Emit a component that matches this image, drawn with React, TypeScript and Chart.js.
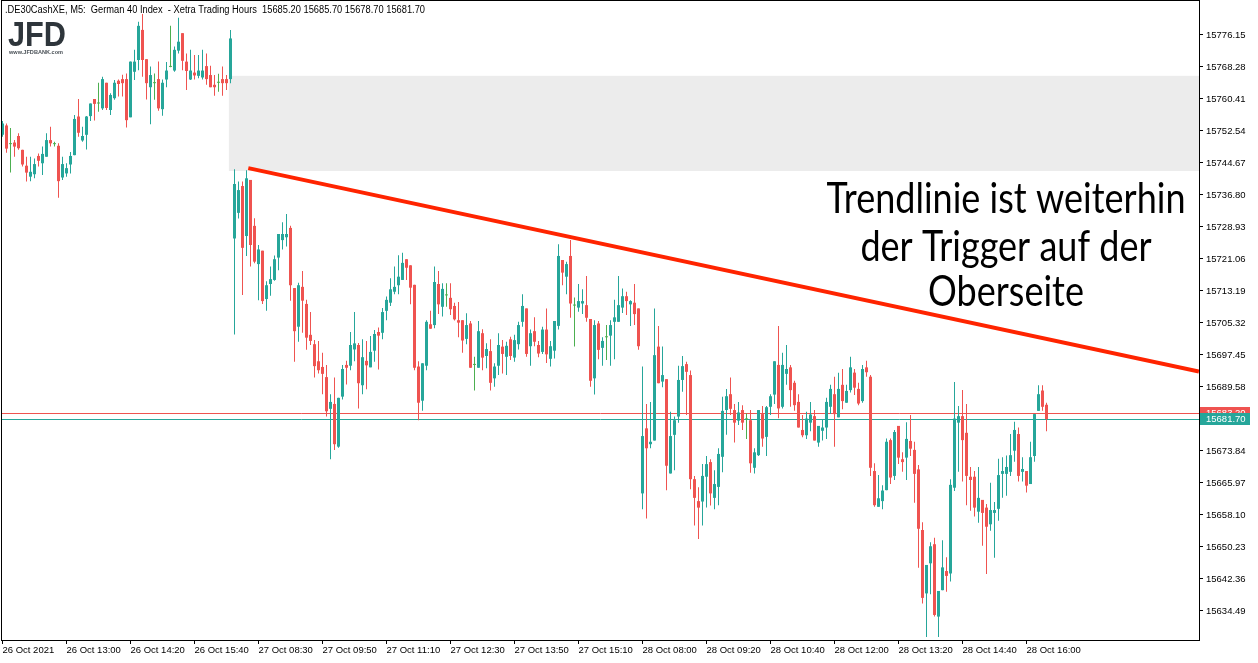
import React, { useEffect, useRef } from 'react';
import { Chart, registerables } from 'chart.js';

Chart.register(...registerables);

// ---- Data (DE30 M5, 26 Oct 11:40 -> 28 Oct 16:25) ----
const OPEN = [
  15751.6, 15753.9, 15749.3, 15749.7, 15751.3, 15747.9, 15744.0, 15741.3, 15741.9, 15746.4,
  15744.6, 15746.2, 15750.3, 15749.3, 15748.9, 15741.1, 15742.1, 15744.3, 15746.6, 15756.1,
  15750.2, 15751.6, 15756.2, 15760.4, 15759.3, 15758.1, 15764.4, 15757.7, 15760.6, 15764.9,
  15765.3, 15765.3, 15755.9, 15767.1, 15770.0, 15777.4, 15770.2, 15763.3, 15764.3, 15765.3,
  15757.9, 15765.2, 15768.3, 15767.4, 15772.3, 15776.6, 15769.6, 15765.2, 15766.9, 15766.1,
  15765.7, 15768.5, 15766.3, 15763.9, 15764.4, 15765.3, 15765.3, 15765.3, 15726.1, 15732.4,
  15739.0, 15726.7, 15740.5, 15729.2, 15719.8, 15723.1, 15711.2, 15714.9, 15715.9, 15721.4,
  15725.7, 15726.4, 15728.7, 15713.9, 15704.4, 15714.2, 15710.0, 15702.4, 15700.1, 15695.9,
  15694.5, 15692.0, 15684.2, 15685.4, 15674.9, 15687.2, 15695.0, 15694.8, 15698.8, 15699.9,
  15690.0, 15696.0, 15694.4, 15698.5, 15703.1, 15702.9, 15708.3, 15710.3, 15713.0, 15714.6,
  15715.9, 15721.0, 15719.5, 15714.7, 15694.6, 15686.2, 15694.8, 15705.0, 15704.8, 15714.9,
  15709.3, 15712.1, 15711.5, 15709.5, 15706.0, 15706.0, 15701.4, 15705.2, 15695.0, 15694.3,
  15702.8, 15697.2, 15698.4, 15691.7, 15694.8, 15699.5, 15697.0, 15701.3, 15696.8, 15700.1,
  15705.6, 15708.9, 15699.6, 15703.3, 15699.9, 15698.2, 15703.7, 15696.5, 15698.5, 15704.6,
  15720.8, 15716.7, 15721.8, 15709.6, 15709.1, 15710.1, 15709.7, 15706.3, 15691.7, 15705.2,
  15699.2, 15701.8, 15702.2, 15705.6, 15705.6, 15709.1, 15711.9, 15709.9, 15710.3, 15708.9,
  15663.4, 15679.4, 15675.5, 15676.4, 15699.5, 15690.9, 15691.5, 15668.3, 15677.8, 15682.3,
  15691.3, 15695.2, 15692.5, 15666.9, 15661.5, 15661.4, 15667.5, 15671.1, 15662.3, 15665.0,
  15672.4, 15683.9, 15687.8, 15683.9, 15681.3, 15683.9, 15681.6, 15681.4, 15669.7, 15672.8,
  15682.9, 15677.3, 15684.7, 15687.7, 15695.0, 15684.7, 15692.8, 15694.4, 15690.6, 15685.9,
  15679.0, 15677.7, 15680.8, 15682.4, 15675.9, 15678.8, 15679.6, 15684.7, 15687.8, 15682.1,
  15690.1, 15685.7, 15688.8, 15693.1, 15689.1, 15686.1, 15694.4, 15692.1, 15668.9, 15660.1,
  15661.5, 15664.2, 15676.5, 15667.7, 15680.0, 15671.8, 15672.2, 15676.3, 15674.1, 15669.3,
  15654.4, 15638.8, 15646.2, 15650.9, 15633.1, 15639.6, 15644.3, 15643.7, 15664.8, 15680.8,
  15682.4, 15678.3, 15667.5, 15667.5, 15658.9, 15661.8, 15659.9, 15655.8, 15658.6, 15659.6,
  15668.2, 15668.2, 15668.7, 15673.9, 15678.0, 15668.7, 15668.9, 15665.7, 15672.6, 15683.7,
  15688.7, 15685.2,
];
const HIGH = [
  15755.0, 15754.4, 15753.3, 15750.3, 15752.0, 15747.9, 15746.2, 15746.2, 15745.8, 15747.0,
  15748.7, 15752.0, 15753.6, 15749.9, 15749.5, 15746.2, 15744.6, 15747.4, 15756.5, 15760.4,
  15753.6, 15756.2, 15759.3, 15760.4, 15764.4, 15765.9, 15764.4, 15761.8, 15765.1, 15765.2,
  15766.4, 15766.7, 15769.6, 15772.5, 15779.4, 15781.3, 15770.2, 15768.4, 15766.7, 15769.6,
  15765.2, 15769.5, 15778.4, 15773.3, 15780.4, 15776.6, 15771.6, 15772.5, 15771.2, 15771.2,
  15772.5, 15771.6, 15768.6, 15766.3, 15766.6, 15768.4, 15766.3, 15777.4, 15743.1, 15740.1,
  15740.1, 15742.9, 15740.5, 15731.1, 15724.5, 15723.1, 15715.6, 15719.2, 15721.9, 15727.2,
  15730.1, 15732.1, 15729.2, 15713.9, 15715.2, 15718.1, 15711.0, 15708.0, 15701.1, 15700.9,
  15698.0, 15695.0, 15687.8, 15691.9, 15686.9, 15695.0, 15696.0, 15703.1, 15708.0, 15700.4,
  15701.3, 15700.9, 15702.1, 15703.6, 15704.2, 15709.0, 15711.8, 15716.3, 15719.2, 15722.0,
  15722.6, 15721.0, 15719.5, 15714.7, 15695.9, 15695.4, 15706.0, 15708.3, 15719.2, 15718.1,
  15715.1, 15715.1, 15715.1, 15710.3, 15710.5, 15706.0, 15707.7, 15705.8, 15697.0, 15705.8,
  15703.8, 15700.3, 15701.3, 15695.4, 15702.8, 15701.1, 15700.7, 15701.9, 15702.4, 15705.6,
  15712.4, 15708.9, 15703.7, 15706.7, 15700.9, 15704.4, 15708.9, 15700.9, 15705.8, 15724.7,
  15720.8, 15720.4, 15725.7, 15711.6, 15714.9, 15713.6, 15716.9, 15706.3, 15706.0, 15705.8,
  15701.8, 15704.8, 15706.0, 15711.0, 15716.9, 15713.8, 15713.0, 15710.9, 15714.9, 15708.9,
  15694.6, 15685.4, 15685.9, 15708.9, 15704.6, 15699.5, 15691.5, 15683.5, 15682.3, 15694.8,
  15697.2, 15695.8, 15693.6, 15667.7, 15664.9, 15670.6, 15672.6, 15671.8, 15669.1, 15674.5,
  15687.2, 15689.1, 15691.9, 15685.4, 15685.9, 15685.1, 15683.1, 15683.9, 15674.5, 15683.9,
  15684.9, 15684.9, 15687.8, 15695.9, 15704.6, 15698.0, 15699.9, 15695.0, 15691.1, 15687.8,
  15682.7, 15683.5, 15685.9, 15683.9, 15680.0, 15681.7, 15686.9, 15690.1, 15692.1, 15693.1,
  15694.0, 15690.1, 15697.0, 15694.0, 15690.6, 15695.0, 15696.0, 15692.5, 15670.8, 15667.9,
  15665.4, 15676.9, 15676.9, 15679.0, 15680.0, 15673.5, 15680.9, 15682.7, 15676.1, 15670.4,
  15656.3, 15645.8, 15651.4, 15652.5, 15639.4, 15651.9, 15647.7, 15666.9, 15690.8, 15684.9,
  15688.8, 15685.4, 15669.9, 15668.9, 15669.9, 15661.8, 15660.8, 15666.0, 15661.3, 15671.9,
  15672.3, 15672.7, 15678.0, 15681.0, 15679.6, 15672.3, 15668.9, 15676.1, 15682.9, 15690.0,
  15690.0, 15685.7,
];
const LOW = [
  15751.1, 15747.2, 15742.3, 15746.2, 15747.9, 15743.8, 15740.1, 15740.2, 15740.9, 15743.8,
  15741.7, 15746.2, 15748.7, 15748.7, 15736.1, 15740.5, 15741.3, 15742.1, 15746.6, 15751.1,
  15749.9, 15748.0, 15755.0, 15755.1, 15757.3, 15757.7, 15757.7, 15756.5, 15760.2, 15761.0,
  15761.0, 15753.4, 15755.9, 15765.1, 15767.5, 15765.9, 15760.3, 15754.2, 15760.2, 15757.5,
  15756.3, 15763.3, 15768.2, 15767.1, 15771.6, 15767.5, 15762.6, 15765.1, 15765.2, 15765.5,
  15765.2, 15763.9, 15763.3, 15761.2, 15762.2, 15761.2, 15762.6, 15764.3, 15702.5, 15731.0,
  15712.2, 15721.8, 15719.2, 15720.0, 15710.9, 15710.0, 15708.3, 15712.0, 15715.7, 15718.3,
  15723.4, 15724.1, 15710.8, 15695.8, 15700.7, 15702.9, 15698.7, 15699.9, 15691.9, 15692.9,
  15687.8, 15682.3, 15671.8, 15674.1, 15674.6, 15686.5, 15690.2, 15693.7, 15695.9, 15684.3,
  15687.8, 15689.0, 15694.4, 15695.8, 15693.9, 15701.3, 15706.0, 15709.5, 15712.4, 15712.4,
  15715.9, 15715.9, 15709.9, 15693.7, 15681.4, 15683.7, 15693.7, 15703.9, 15704.0, 15707.5,
  15706.9, 15709.3, 15707.3, 15705.9, 15701.8, 15698.0, 15700.1, 15694.3, 15688.7, 15694.3,
  15693.7, 15694.2, 15688.7, 15689.6, 15692.5, 15692.9, 15692.5, 15696.2, 15695.8, 15698.8,
  15704.4, 15697.0, 15694.8, 15699.6, 15696.9, 15697.7, 15695.5, 15694.6, 15696.6, 15703.7,
  15714.6, 15712.4, 15706.6, 15699.5, 15708.1, 15707.5, 15705.6, 15689.6, 15687.7, 15696.4,
  15694.8, 15696.2, 15694.8, 15696.4, 15705.6, 15707.8, 15707.3, 15704.6, 15704.8, 15698.7,
  15659.5, 15657.2, 15674.5, 15676.4, 15690.5, 15689.5, 15664.2, 15668.3, 15669.1, 15680.8,
  15688.4, 15682.7, 15664.4, 15655.5, 15652.2, 15655.5, 15659.9, 15660.4, 15659.5, 15660.5,
  15668.6, 15677.8, 15682.7, 15675.9, 15680.2, 15679.0, 15676.8, 15668.5, 15668.3, 15672.6,
  15674.9, 15672.6, 15682.7, 15685.4, 15681.9, 15684.3, 15690.1, 15684.7, 15683.7, 15679.6,
  15677.2, 15676.8, 15678.7, 15676.4, 15674.9, 15676.4, 15676.8, 15682.9, 15674.9, 15682.1,
  15684.1, 15685.7, 15688.2, 15687.6, 15685.1, 15685.7, 15692.1, 15667.7, 15660.1, 15660.1,
  15659.5, 15664.2, 15665.7, 15666.7, 15670.6, 15668.7, 15666.7, 15672.6, 15661.1, 15645.1,
  15636.3, 15628.1, 15638.6, 15633.1, 15628.1, 15639.6, 15639.2, 15641.7, 15664.0, 15668.7,
  15666.3, 15660.5, 15659.1, 15657.7, 15656.2, 15650.5, 15643.6, 15654.2, 15647.6, 15656.7,
  15662.3, 15662.8, 15667.7, 15671.2, 15666.3, 15666.3, 15663.6, 15665.7, 15671.2, 15683.7,
  15683.7, 15678.7,
];
const CLOSE = [
  15754.4, 15748.2, 15749.3, 15748.7, 15748.3, 15744.3, 15742.3, 15742.5, 15744.4, 15745.2,
  15746.9, 15750.3, 15749.5, 15749.3, 15740.2, 15744.4, 15743.4, 15746.4, 15755.5, 15752.1,
  15751.3, 15756.1, 15759.3, 15759.2, 15759.3, 15765.3, 15758.2, 15761.4, 15764.4, 15764.1,
  15764.3, 15755.2, 15769.6, 15769.6, 15778.4, 15770.0, 15764.3, 15766.3, 15764.3, 15758.1,
  15764.4, 15767.4, 15768.3, 15772.5, 15774.5, 15769.8, 15767.3, 15767.4, 15766.2, 15767.4,
  15767.4, 15765.3, 15763.3, 15763.3, 15764.4, 15764.3, 15764.3, 15775.3, 15739.5, 15738.0,
  15723.8, 15740.9, 15724.5, 15720.4, 15723.4, 15710.7, 15714.6, 15716.1, 15721.0, 15727.2,
  15727.2, 15727.2, 15714.6, 15703.3, 15714.6, 15710.8, 15701.7, 15700.9, 15694.7, 15693.7,
  15692.8, 15683.6, 15685.9, 15675.5, 15686.9, 15694.0, 15694.3, 15699.9, 15700.3, 15690.5,
  15696.9, 15694.9, 15698.2, 15702.6, 15702.2, 15708.0, 15711.0, 15713.6, 15714.2, 15716.7,
  15720.1, 15718.9, 15714.0, 15694.3, 15685.7, 15695.4, 15705.6, 15703.9, 15715.4, 15709.9,
  15713.7, 15712.1, 15708.7, 15706.2, 15705.4, 15701.0, 15704.8, 15694.3, 15695.0, 15703.3,
  15696.8, 15698.9, 15690.6, 15694.6, 15699.9, 15697.7, 15699.7, 15697.2, 15701.1, 15704.8,
  15709.5, 15697.7, 15702.8, 15700.7, 15697.8, 15703.7, 15697.6, 15699.6, 15705.8, 15721.8,
  15717.7, 15719.8, 15710.1, 15709.6, 15710.7, 15710.7, 15706.6, 15691.1, 15704.8, 15698.7,
  15700.9, 15701.8, 15704.8, 15706.7, 15709.7, 15711.9, 15710.7, 15710.7, 15707.5, 15699.6,
  15677.5, 15674.5, 15676.1, 15697.4, 15690.5, 15692.5, 15670.2, 15677.5, 15681.4, 15691.3,
  15694.7, 15693.3, 15666.9, 15662.3, 15659.9, 15667.7, 15670.6, 15663.4, 15665.7, 15673.1,
  15683.7, 15687.3, 15684.2, 15680.8, 15683.3, 15680.8, 15681.6, 15670.8, 15673.5, 15683.9,
  15676.9, 15684.6, 15687.3, 15695.9, 15684.3, 15695.0, 15694.0, 15688.8, 15685.1, 15679.6,
  15677.7, 15681.8, 15682.8, 15676.4, 15680.0, 15679.6, 15685.9, 15689.1, 15682.9, 15689.1,
  15686.1, 15688.6, 15694.4, 15689.4, 15685.5, 15694.0, 15693.2, 15669.7, 15660.5, 15662.2,
  15664.1, 15676.1, 15667.3, 15678.5, 15672.2, 15671.1, 15676.8, 15674.4, 15668.2, 15654.7,
  15637.7, 15645.8, 15650.4, 15633.5, 15639.4, 15645.2, 15643.1, 15665.5, 15681.8, 15682.4,
  15676.5, 15667.7, 15666.7, 15659.9, 15662.3, 15658.6, 15655.2, 15659.3, 15659.3, 15667.9,
  15668.9, 15669.9, 15672.8, 15679.0, 15667.7, 15669.4, 15665.3, 15672.3, 15682.9, 15687.8,
  15684.7, 15681.7,
];

// x-axis labels: one every 16 bars
const X_TICK_BARS = [0, 16, 32, 48, 64, 80, 96, 112, 128, 144, 160, 176, 192, 208, 224, 240, 256];
const X_TICK_LABELS = [
  '26 Oct 2021', '26 Oct 13:00', '26 Oct 14:20', '26 Oct 15:40', '27 Oct 08:30', '27 Oct 09:50',
  '27 Oct 11:10', '27 Oct 12:30', '27 Oct 13:50', '27 Oct 15:10', '28 Oct 08:00', '28 Oct 09:20',
  '28 Oct 10:40', '28 Oct 12:00', '28 Oct 13:20', '28 Oct 14:40', '28 Oct 16:00',
];
const Y_TICKS = [
  15776.15, 15768.28, 15760.41, 15752.54, 15744.67, 15736.8, 15728.93, 15721.06, 15713.19,
  15705.32, 15697.45, 15689.58, 15681.71, 15673.84, 15665.97, 15658.1, 15650.23, 15642.36, 15634.49,
];
const Y_MIN = 15627.34;
const Y_MAX = 15784.51;
const X_MIN = -0.125;
const X_MAX = 299.125;

const BID = 15681.7;
const ASK = 15683.2;
const GAP_START = 56.6;
const GAP_TOP = 15766.1;
const GAP_BOTTOM = 15742.7;
const TREND_X = [61.45, 299.1];
const TREND_Y = [15743.4, 15693.4];

const HEADER = '.DE30CashXE, M5:  German 40 Index  - Xetra Trading Hours  15685.20 15685.70 15678.70 15681.70';
const NOTE_LINES = ['Trendlinie ist weiterhin', 'der Trigger auf der', 'Oberseite'];

const UP = '#26a69a';
const DOWN = '#ef5350';
const DOJI = '#4caf50';
const TREND = '#ff2400';
const TICK_FONT = { family: 'Liberation Sans', size: 9.5 };

const candleColor = (i: number) =>
  CLOSE[i] > OPEN[i] ? UP : CLOSE[i] < OPEN[i] ? DOWN : DOJI;

const overlay = {
  id: 'mt5overlay',
  beforeDatasetsDraw(chart: any) {
    const { ctx, chartArea, scales } = chart;
    const { left, right, top, bottom } = chartArea;
    const x = scales.x;
    const y = scales.y;
    ctx.save();
    ctx.beginPath();
    ctx.rect(left, top, right - left, bottom - top);
    ctx.clip();
    const gx = x.getPixelForValue(GAP_START);
    const gt = y.getPixelForValue(GAP_TOP);
    const gb = y.getPixelForValue(GAP_BOTTOM);
    ctx.fillStyle = '#ececec';
    ctx.fillRect(gx, gt, right - gx, gb - gt);
    const hline = (price: number, color: string) => {
      const py = Math.round(y.getPixelForValue(price)) + 0.5;
      ctx.strokeStyle = color;
      ctx.lineWidth = 1;
      ctx.beginPath();
      ctx.moveTo(left, py);
      ctx.lineTo(right, py);
      ctx.stroke();
    };
    hline(ASK, DOWN);
    hline(BID, UP);
    ctx.restore();
  },
  afterDraw(chart: any) {
    const { ctx, chartArea, scales } = chart;
    const { left, right, top, bottom } = chartArea;
    const y = scales.y;
    ctx.save();
    // frame
    ctx.strokeStyle = '#000';
    ctx.lineWidth = 1;
    ctx.strokeRect(left - 0.5, top - 0.5, right - left + 1, bottom - top + 1);

    // header text
    ctx.fillStyle = '#000';
    ctx.font = '10px "Liberation Sans"';
    ctx.textBaseline = 'alphabetic';
    ctx.textAlign = 'left';
    const hw = ctx.measureText(HEADER).width;
    ctx.save();
    ctx.translate(5, 13);
    ctx.scale(420 / hw, 1);
    ctx.fillText(HEADER, 0, 0);
    ctx.restore();

    // JFD logo
    ctx.fillStyle = '#2e353b';
    ctx.font = 'bold 35px "Liberation Sans"';
    const lw = ctx.measureText('JFD').width;
    ctx.save();
    ctx.translate(8, 46);
    ctx.scale(58 / lw, 1);
    ctx.fillText('JFD', 0, 0);
    ctx.restore();
    ctx.fillStyle = '#4a5157';
    ctx.font = 'bold 6px "Liberation Sans"';
    const sw = ctx.measureText('www.JFDBANK.com').width;
    ctx.save();
    ctx.translate(9, 54);
    ctx.scale(54 / sw, 1);
    ctx.fillText('www.JFDBANK.com', 0, 0);
    ctx.restore();

    // annotation
    ctx.fillStyle = '#000';
    ctx.font = '42px Lato';
    ctx.textAlign = 'center';
    const nw = ctx.measureText(NOTE_LINES[0]).width;
    const sx = 359 / nw;
    const baselines = [213, 261, 306];
    NOTE_LINES.forEach((t, k) => {
      ctx.save();
      ctx.translate(1006, baselines[k]);
      ctx.scale(sx, 1);
      ctx.fillText(t, 0, 0);
      ctx.restore();
    });

    // price tags on the axis
    const tag = (price: number, color: string) => {
      const py = Math.round(y.getPixelForValue(price));
      ctx.fillStyle = color;
      ctx.fillRect(right + 1, py - 6, 50, 12);
      ctx.fillStyle = '#fff';
      ctx.font = '9.5px "Liberation Sans"';
      ctx.textAlign = 'left';
      ctx.textBaseline = 'middle';
      ctx.fillText(price.toFixed(2), right + 7, py + 0.5);
    };
    tag(ASK, DOWN);
    tag(BID, UP);
    ctx.restore();
  },
};

export default function App() {
  const ref = useRef<HTMLCanvasElement>(null);

  useEffect(() => {
    const canvas = ref.current;
    if (!canvas) return;
    const idx = OPEN.map((_, i) => i);
    const chart = new Chart(canvas, {
      type: 'bar',
      data: {
        datasets: [
          {
            type: 'line',
            label: 'Trend',
            data: TREND_X.map((v, k) => ({ x: v, y: TREND_Y[k] })),
            borderColor: TREND,
            borderWidth: 4,
            pointRadius: 0,
            order: 0,
          } as any,
          {
            label: 'Body',
            data: idx.map((i) => ({ x: i, y: [OPEN[i], CLOSE[i]] })),
            backgroundColor: (c: any) => candleColor(c.dataIndex),
            barThickness: 3,
            minBarLength: 1,
            grouped: false,
            inflateAmount: 0,
            borderWidth: 0,
            order: 1,
          } as any,
          {
            label: 'Wick',
            data: idx.map((i) => ({ x: i, y: [LOW[i], HIGH[i]] })),
            backgroundColor: (c: any) => candleColor(c.dataIndex),
            barThickness: 1,
            grouped: false,
            inflateAmount: 0,
            borderWidth: 0,
            order: 2,
          } as any,
        ],
      },
      options: {
        animation: false,
        responsive: false,
        devicePixelRatio: 1,
        layout: { padding: { left: 2, top: 1, right: 0, bottom: 0 }, autoPadding: false },
        plugins: { legend: { display: false }, tooltip: { enabled: false } },
        events: [],
        scales: {
          x: {
            type: 'linear',
            min: X_MIN,
            max: X_MAX,
            offset: false,
            grid: { display: true, drawOnChartArea: false, drawTicks: true, tickLength: 4, color: '#000', offset: false },
            border: { display: false },
            afterBuildTicks: (s: any) => {
              s.ticks = X_TICK_BARS.map((v) => ({ value: v }));
            },
            afterFit: (s: any) => {
              s.height = 23;
              s.paddingLeft = 0;
              s.paddingRight = 0;
              s.paddingTop = 0;
              s.paddingBottom = 0;
            },
            ticks: {
              autoSkip: false,
              maxRotation: 0,
              minRotation: 0,
              align: 'start',
              padding: 1,
              color: '#000',
              font: TICK_FONT,
              callback: (_v: any, i: number) => X_TICK_LABELS[i],
            },
          },
          y: {
            type: 'linear',
            position: 'right',
            min: Y_MIN,
            max: Y_MAX,
            grid: { display: true, drawOnChartArea: false, drawTicks: true, tickLength: 4, color: '#000' },
            border: { display: false },
            afterBuildTicks: (s: any) => {
              s.ticks = Y_TICKS.slice().reverse().map((v) => ({ value: v }));
            },
            afterFit: (s: any) => {
              s.width = 59;
              s.paddingLeft = 0;
              s.paddingRight = 0;
              s.paddingTop = 0;
              s.paddingBottom = 0;
            },
            ticks: {
              autoSkip: false,
              padding: 3,
              color: '#000',
              font: TICK_FONT,
              callback: (v: any) => Number(v).toFixed(2),
            },
          },
        },
      } as any,
      plugins: [overlay],
    });
    return () => chart.destroy();
  }, []);

  return (
    <div style={{ position: 'absolute', left: 0, top: 0, width: 1258, height: 663, background: '#fff' }}>
      <canvas ref={ref} width={1258} height={663} style={{ display: 'block', width: 1258, height: 663 }} />
    </div>
  );
}
